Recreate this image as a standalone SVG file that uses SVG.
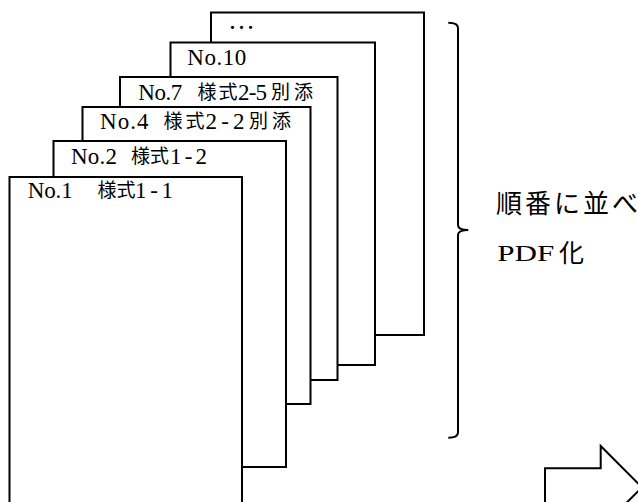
<svg xmlns="http://www.w3.org/2000/svg" width="638" height="502" viewBox="0 0 638 502">
<style>
.pg{fill:#fff;stroke:#000;stroke-width:2}
.lat{font-family:"Liberation Serif","Noto Sans CJK JP",serif;font-size:23px;fill:#000}
.cjk{font-family:"Noto Sans CJK JP","Liberation Serif",sans-serif;font-size:19px;fill:#000}
.big{font-family:"Noto Sans CJK JP",sans-serif;font-size:26px;letter-spacing:3px;fill:#000}
.ln{fill:none;stroke:#000;stroke-width:2}
</style>
<rect width="638" height="502" fill="#fff"/>
<g id="page-more">
<rect class="pg" x="211" y="12.5" width="213" height="322.5"/>
<text class="lat" x="228" y="28.5" style="font-size:27px">…</text>
</g>
<g id="page-no10">
<rect class="pg" x="170.5" y="42.5" width="204.5" height="322.5"/>
<text class="lat" x="187.3" y="65" textLength="59" lengthAdjust="spacing">No.10</text>
</g>
<g id="page-no7">
<rect class="pg" x="120" y="77" width="217.5" height="303"/>
<text class="lat" x="138.3" y="99.5" textLength="44" lengthAdjust="spacing">No.7</text>
<text class="cjk" x="197.5" y="98.5" textLength="40" lengthAdjust="spacing">様式</text>
<text class="lat" x="238" y="99.5" textLength="29" lengthAdjust="spacing">2-5</text>
<text class="cjk" x="271" y="98.5" textLength="42" lengthAdjust="spacing">別添</text>
</g>
<g id="page-no4">
<rect class="pg" x="82.5" y="107" width="228" height="297"/>
<text class="lat" x="100" y="128.5" textLength="48.5" lengthAdjust="spacing">No.4</text>
<text class="cjk" x="163.5" y="127.5" textLength="41" lengthAdjust="spacing">様式</text>
<text class="lat" x="205.5" y="128.5" textLength="39" lengthAdjust="spacing">2-2</text>
<text class="cjk" x="249" y="127.5" textLength="42" lengthAdjust="spacing">別添</text>
</g>
<g id="page-no2">
<rect class="pg" x="53.5" y="141" width="232.5" height="326"/>
<text class="lat" x="71" y="163.5" textLength="46" lengthAdjust="spacing">No.2</text>
<text class="cjk" x="131" y="162.5" textLength="38" lengthAdjust="spacing">様式</text>
<text class="lat" x="170" y="163.5" textLength="37" lengthAdjust="spacing">1-2</text>
</g>
<g id="page-no1">
<rect class="pg" x="9.5" y="177" width="232.5" height="340"/>
<text class="lat" x="27.7" y="198" textLength="45" lengthAdjust="spacing">No.1</text>
<text class="cjk" x="97.5" y="197" textLength="38" lengthAdjust="spacing">様式</text>
<text class="lat" x="135" y="198" textLength="38" lengthAdjust="spacing">1-1</text>
</g>
<g id="connectors">
<path class="ln" d="M448.3,22.7 Q458,22.7 458,28 V225 Q458,230 468.3,230 Q458,230 458,235 V432.5 Q458,437.7 448.3,437.7"/>
</g>
<g id="label">
<text class="big" x="496" y="213">順番に並べ</text>
<text class="lat" x="497.3" y="261" style="font-size:24px" textLength="57" lengthAdjust="spacingAndGlyphs">PDF</text>
<text class="big" x="559" y="262" style="letter-spacing:0;font-size:25px">化</text>
</g>
<g id="arrow">
<path class="pg" d="M545,468.3 H600.7 V446 L642,487.3 L600.7,528.6 V506.3 H545 Z"/>
</g>
</svg>
